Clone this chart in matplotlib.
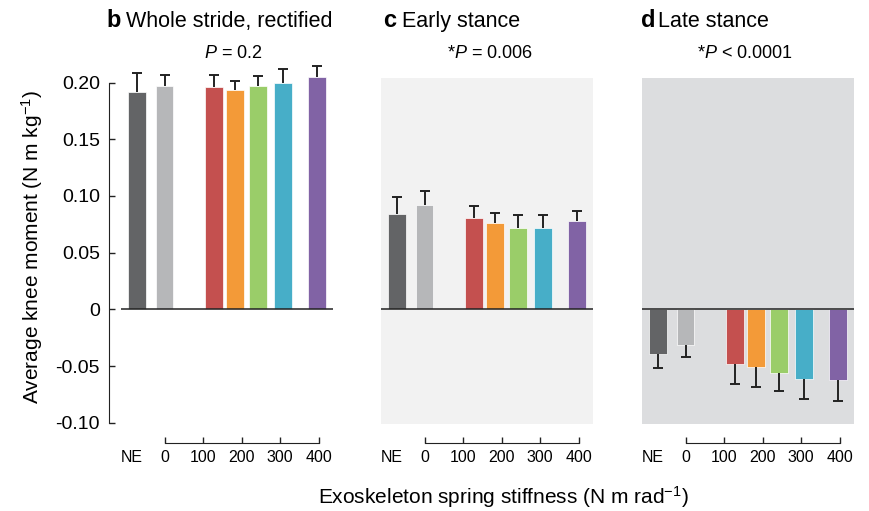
import numpy as np
import matplotlib.pyplot as plt

plt.rcParams['font.family'] = ['Liberation Sans', 'DejaVu Sans']
plt.rcParams['mathtext.fontset'] = 'custom'
plt.rcParams['mathtext.rm'] = 'Liberation Sans'
plt.rcParams['mathtext.it'] = 'Liberation Sans:italic'

# Данные: положение столбцов по оси жёсткости (NE слева от 0)
stiffness = [-71, 0, 129, 183, 242, 307, 396]
bar_colors = ['#636466', '#b6b7b9', '#c4504f', '#f39a38', '#9acd69', '#47aec8', '#8163a5']

whole_mean = [0.192, 0.197, 0.196, 0.193, 0.197, 0.200, 0.205]
whole_err = [0.016, 0.010, 0.011, 0.008, 0.009, 0.012, 0.010]
early_mean = [0.084, 0.092, 0.081, 0.076, 0.072, 0.072, 0.078]
early_err = [0.015, 0.012, 0.010, 0.009, 0.011, 0.011, 0.009]
late_mean = [-0.039, -0.031, -0.048, -0.051, -0.056, -0.061, -0.062]
late_err = [0.013, 0.011, 0.018, 0.017, 0.016, 0.018, 0.019]

x_ticks = [0, 100, 200, 300, 400]
y_ticks = [0.20, 0.15, 0.10, 0.05, 0, -0.05, -0.10]
y_ticklabels = ['0.20', '0.15', '0.10', '0.05', '0', '-0.05', '-0.10']

panels = [
    ('b', 'Whole stride, rectified', r'$P$ = 0.2', whole_mean, whole_err, 'white'),
    ('c', 'Early stance', r'*$P$ = 0.006', early_mean, early_err, '#f2f2f2'),
    ('d', 'Late stance', r'*$P$ < 0.0001', late_mean, late_err, '#dcdddf'),
]

W, H = 870, 511
fig = plt.figure(figsize=(W / 100, H / 100), dpi=100)

lefts = [121, 381, 642]
line_col = '#222222'

for i, (letter, title, ptext, mean, err, bg) in enumerate(panels):
    ax = fig.add_axes([lefts[i] / W, 1 - 424 / H, 212 / W, 346 / H])
    ax.set_facecolor(bg)
    bars = ax.bar(stiffness, mean, width=46, color=bar_colors, edgecolor='white',
                  linewidth=0.5, zorder=2)
    for b in bars:
        b.set_clip_on(False)
    mean = np.array(mean)
    err = np.array(err)
    zeros = np.zeros_like(err)
    positive = mean.mean() > 0
    yerr = [zeros, err] if positive else [err, zeros]
    eb = ax.errorbar(stiffness, mean, yerr=yerr, fmt='none', ecolor=line_col,
                     elinewidth=1.4, capsize=3.4, capthick=1.4, zorder=3)
    caps = eb.lines[1]
    # колпачок только на дальнем конце
    caps[0 if positive else 1].set_visible(False)
    for art in list(caps) + list(eb.lines[2]):
        art.set_clip_on(False)
    ax.axhline(0, color=line_col, lw=1.1, zorder=4)

    ax.set_xlim(-113, 437)
    ax.set_ylim(-0.101, 0.204)

    # нижняя ось-скобка от 0 до 400
    for s in ['top', 'right']:
        ax.spines[s].set_visible(False)
    ax.spines['bottom'].set_position(('outward', 13.5))
    ax.spines['bottom'].set_bounds(0, 400)
    ax.spines['bottom'].set_color(line_col)
    ax.set_xticks([-84] + x_ticks)
    ax.set_xticklabels(['NE'] + [str(t) for t in x_ticks])
    ax.tick_params(axis='x', direction='in', length=4, width=1, pad=5,
                   labelsize=11.5, color=line_col)
    ax.xaxis.get_major_ticks()[0].tick1line.set_visible(False)

    if i == 0:
        ax.spines['left'].set_position(('outward', 8.6))
        ax.spines['left'].set_bounds(-0.10, 0.20)
        ax.spines['left'].set_color(line_col)
        ax.set_yticks(y_ticks)
        ax.set_yticklabels(y_ticklabels)
        ax.tick_params(axis='y', direction='in', length=4, width=1, pad=6.5,
                       labelsize=14, color=line_col)
    else:
        ax.spines['left'].set_visible(False)
        ax.set_yticks([])

    # заголовки
    lx = [106, 383, 641][i]
    tx = [126, 402, 658][i]
    fig.text(lx / W, 1 - 27 / H, letter, fontsize=17, fontweight='bold', va='baseline')
    fig.text(tx / W, 1 - 27 / H, title, fontsize=15.5, va='baseline')
    px = [233, 490, 745][i]
    fig.text(px / W, 1 - 53 / H, ptext, fontsize=13, ha='center', va='center')

fig.text(32 / W, 1 - 247 / H, r'Average knee moment (N m kg$^{-1}$)', rotation=90,
         ha='center', va='center', fontsize=15)
fig.text(503 / W, 1 - 497 / H, r'Exoskeleton spring stiffness (N m rad$^{-1}$)',
         ha='center', va='center', fontsize=15)

fig.savefig('out.png', dpi=100)
